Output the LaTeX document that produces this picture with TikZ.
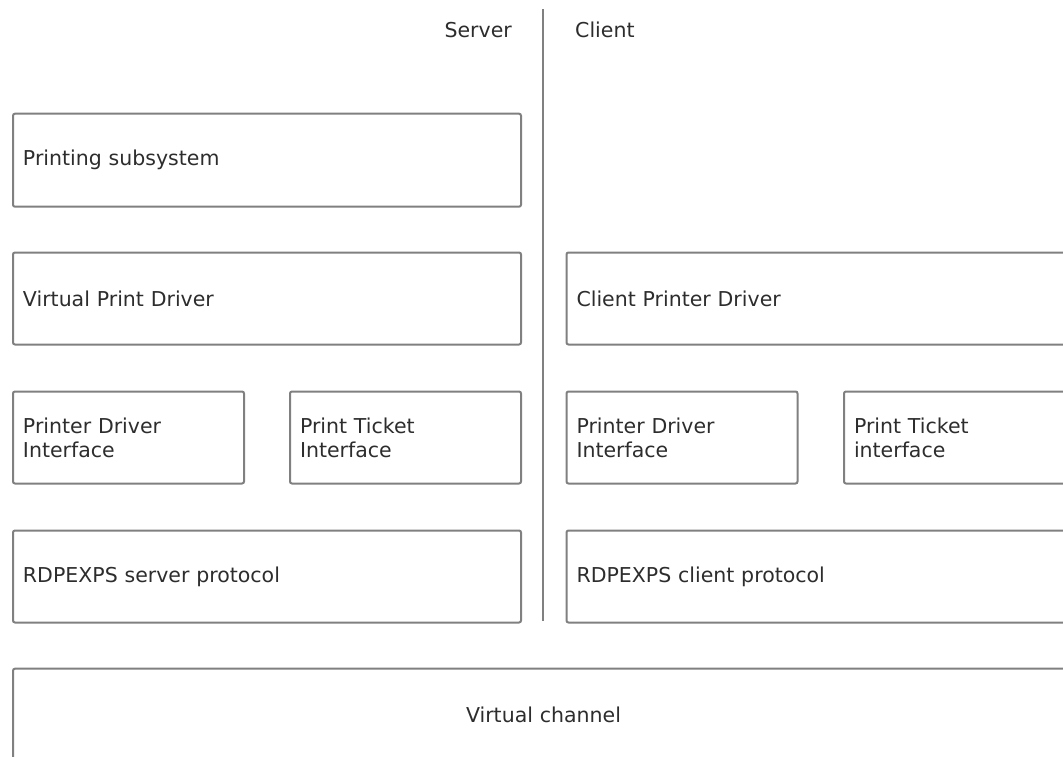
\documentclass[tikz,border=0pt]{standalone}
\usepackage{fontspec}
\setmainfont{DejaVu Sans}
\definecolor{edge}{RGB}{128,128,128}
\definecolor{ink}{RGB}{45,45,45}
\begin{document}
\begin{tikzpicture}[x=1pt,y=1pt,
  box/.style={draw=edge, line width=2pt, rounded corners=2pt, anchor=north west,
    inner xsep=9pt, inner ysep=0pt, align=left, text=ink,
    font=\fontsize{20.5}{24}\selectfont},
  wide/.style={box, minimum width=508pt, minimum height=93pt, text width=488pt},
  narrow/.style={box, minimum width=231pt, minimum height=92pt, text width=211pt},
  lbl/.style={text=ink, font=\fontsize{20.5}{24}\selectfont, inner sep=0pt}]
\useasboundingbox (0,0) rectangle (1063,-757);
% divider
\coordinate (dtop) at (542.5,-9.5);
\coordinate (dbot) at (542.5,-621);
\draw[edge, line width=2pt] (dtop) -- (dbot);
\node[lbl, anchor=base east] (server) at (512,-37.5) {Server};
\node[lbl, anchor=base west] (client) at (575,-37.5) {Client};
% server side
\node[wide] (ps) at (12,-112.7) {Printing subsystem};
\node[wide, minimum height=92pt] (vpd) at (12,-251.5) {Virtual Print Driver};
\node[narrow] (spdi) at (12,-390.5) {Printer Driver\\Interface};
\node[narrow] (spti) at (289,-390.5) {Print Ticket\\Interface};
\node[wide, minimum height=92pt] (srp) at (12,-529.5) {RDPEXPS server protocol};
% client side
\node[wide, minimum height=92pt] (cpd) at (565.5,-251.5) {Client Printer Driver};
\node[narrow] (cpdi) at (565.5,-390.5) {Printer Driver\\Interface};
\node[narrow] (cpti) at (843,-390.5) {Print Ticket\\interface};
\node[wide, minimum height=92pt] (crp) at (565.5,-529.5) {RDPEXPS client protocol};
% virtual channel
\node[box, minimum width=1061pt, minimum height=93pt, text width=1043pt, align=center] (vc) at (12,-667.7) {Virtual channel};
\end{tikzpicture}
\end{document}
